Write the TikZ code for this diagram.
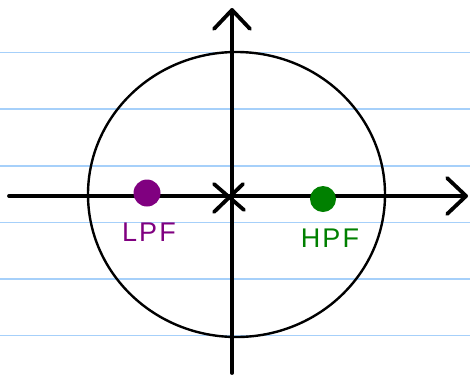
\documentclass[tikz,border=0pt]{standalone}
\usepackage{fontspec}
\usepackage{xcolor}
\usepackage{tikz}
\usetikzlibrary{arrows.meta, positioning}
\newfontfamily\handfont[LetterSpace=8]{Liberation Sans}
\definecolor{ruleblue}{HTML}{A6D0FA}
\definecolor{polepurple}{HTML}{800080}
\definecolor{polegreen}{HTML}{008000}

\begin{document}
\begin{tikzpicture}[
        x=1pt, y=-1pt,
        rule/.style={draw=ruleblue, line width=1.8pt},
        axis/.style={-{Straight Barb[length=19pt, width=36pt, round]}, line width=3.8pt, line cap=round},
        unit/.style={draw=black, line width=2.4pt},
        pole/.style={circle, inner sep=0pt, minimum size=27pt},
        tag/.style={font=\handfont\fontsize{27}{27}\selectfont, inner sep=0pt}
    ]
    \useasboundingbox (0,0) rectangle (470,378);

    % Ruled paper
    \foreach \ry in {52.5, 109, 166, 222.5, 279, 335.5}
        \draw[rule] (0,\ry) -- (470,\ry);

    % Unit circle
    \draw[unit] (236.5,194.5) ellipse [x radius=148.5, y radius=142.5];

    % Axes
    \coordinate (xl) at (9,196);
    \coordinate (xr) at (468,196);
    \coordinate (yb) at (232,373);
    \coordinate (yt) at (232,8);
    \draw[axis] (xl) -- (xr);
    \draw[axis] (yb) -- (yt);

    % Origin mark
    \node[inner sep=0pt, minimum size=0pt] (origin) at (229,197) {};
    \draw[line width=3.8pt, line cap=round] ([shift={(-15,-13)}]origin.center) -- ([shift={(15,13)}]origin.center);
    \draw[line width=3.8pt, line cap=round] ([shift={(14,-13)}]origin.center) -- ([shift={(-15,15)}]origin.center);

    % Poles
    \node[pole, fill=polepurple] (lpf) at (147,193) {};
    \node[pole, fill=polegreen, minimum size=26pt] (hpf) at (323,199) {};

    % Labels
    \node[tag, text=polepurple, below=16pt of lpf, xshift=2pt] (lpftag) {LPF};
    \node[tag, text=polegreen, below=17pt of hpf, xshift=7pt] (hpftag) {HPF};
\end{tikzpicture}
\end{document}
